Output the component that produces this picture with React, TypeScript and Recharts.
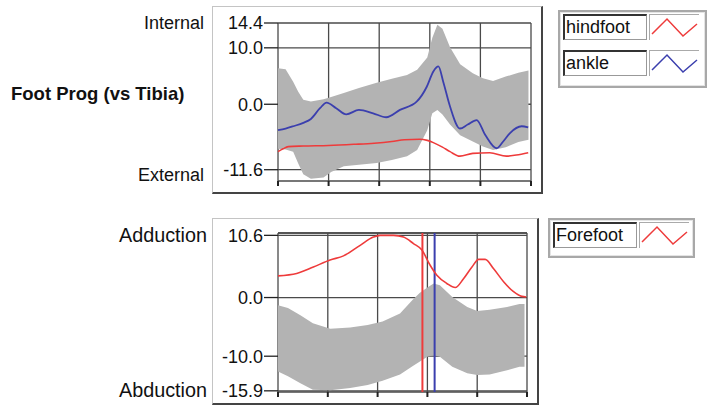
import React from 'react';
import { ComposedChart, Area, Line, XAxis, YAxis, CartesianGrid, ReferenceLine } from 'recharts';

// gait cycle, percent
const cycleTicks = [0, 20, 40, 60, 80, 100];

// top panel: foot progression vs tibia
const progTicks = [-11.6, 0, 10, 14.4];
const progBandX = [0, 3, 6, 8, 10, 13, 18, 21, 26, 32, 39, 45, 51, 55, 59, 61, 63, 65, 68, 72, 77, 81, 85, 90, 95, 99];
const progBandHi = [6.4, 6.2, 4.0, 2.2, 0.8, 0.5, 0.9, 1.3, 2.0, 2.9, 3.8, 4.5, 5.2, 6.1, 8.3, 11.8, 14.1, 13.4, 10.1, 7.1, 5.5, 4.6, 4.1, 4.9, 5.6, 6.0];
const progBandLo = [-7.9, -8.0, -8.4, -10.5, -12.4, -13.2, -13.0, -12.0, -11.0, -10.7, -10.4, -9.9, -9.2, -8.1, -4.6, -1.6, -1.0, -1.8, -3.6, -5.5, -6.6, -7.5, -8.1, -7.6, -6.7, -6.3];

const hindfootX = [0, 2, 4, 10, 20, 30, 38, 45, 50, 56, 59, 61.4, 65, 68, 71.9, 77, 83.7, 90.3, 94.2, 98.9];
const hindfootY = [-8.4, -7.9, -7.5, -7.4, -7.3, -7.1, -6.9, -6.6, -6.3, -6.2, -6.4, -6.8, -7.6, -8.4, -9.2, -8.7, -8.6, -9.2, -9.0, -8.6];

const ankleX = [0, 3, 6, 10, 13, 16.6, 19.2, 23, 27, 32, 37.6, 42.8, 48.2, 54.8, 58.8, 61.4, 63.4, 65.3, 68, 71.9, 75, 78.5, 82, 86.4, 89, 91.7, 96.3, 98.9];
const ankleY = [-4.6, -4.3, -3.9, -3.3, -2.6, -0.7, 0.3, -0.7, -1.8, -1.0, -1.6, -2.3, -1.0, 0.45, 3.1, 5.8, 6.7, 4.0, -0.4, -4.3, -3.6, -2.8, -5.5, -7.8, -6.6, -5.1, -3.9, -4.1];

// bottom panel: forefoot adduction / abduction
const addTicks = [-15.9, -10, 0, 10.6];
const addBandX = [0, 4, 9, 14, 21, 29, 36, 42, 49, 54, 57, 60, 62.5, 65, 70, 76, 80, 85, 92, 97, 99];
const addBandHi = [-1.3, -1.8, -3.0, -4.4, -5.3, -5.1, -4.7, -4.1, -2.7, -0.4, 0.8, 1.7, 2.4, 2.1, 0.1, -1.6, -2.3, -2.1, -1.6, -1.1, -1.1];
const addBandLo = [-12.6, -13.4, -14.6, -15.7, -15.8, -15.4, -14.9, -14.2, -13.1, -11.7, -10.9, -10.1, -9.8, -10.1, -11.8, -12.9, -13.2, -13.1, -12.4, -11.8, -11.8];

const forefootX = [0, 7.5, 14.2, 20.9, 26.3, 33, 38.3, 41, 46.4, 50.4, 54.4, 57.8, 61.1, 63.8, 67.8, 71.2, 74.5, 77.9, 80.6, 83.2, 86.6, 90.6, 94.6, 97.9, 99.7];
const forefootY = [3.7, 4.1, 5.2, 6.4, 7.1, 8.9, 10.3, 10.6, 10.6, 10.3, 9.2, 8.1, 5.5, 3.8, 2.4, 1.7, 3.2, 5.2, 6.5, 6.5, 4.9, 2.7, 1.0, 0.2, 0.1];

// toe-off markers
const toeOffRed = 58;
const toeOffBlue = 62.9;

const RED = '#ee3b3b';
const BLUE = '#3b3fae';
const BAND = '#b3b3b3';
const GRID = '#4a4a4a';
const FONT = '"Liberation Sans", Arial, sans-serif';

const toBand = (xs: number[], lo: number[], hi: number[]) =>
  xs.map((x, i) => ({ x, band: [lo[i], hi[i]] }));
const toLine = (xs: number[], ys: number[]) => xs.map((x, i) => ({ x, y: ys[i] }));

const fmt = (v: number) => v.toFixed(1);

const Frame: React.FC<{ left: number; top: number; width: number; height: number }> = ({ left, top, width, height }) => (
  <div
    style={{
      position: 'absolute',
      left,
      top,
      width,
      height,
      boxSizing: 'border-box',
      background: '#fff',
      borderTop: '1px solid #c4c4c4',
      borderLeft: '1px solid #c4c4c4',
      borderRight: '2px solid #444',
      borderBottom: '2px solid #444',
    }}
  />
);

const Label: React.FC<{ text: string; right?: number; left?: number; y: number; bold?: boolean; size?: number }> = ({
  text,
  right,
  left,
  y,
  bold,
  size = 18,
}) => (
  <div
    style={{
      position: 'absolute',
      top: y - 12,
      height: 24,
      lineHeight: '24px',
      left,
      right: right !== undefined ? 709 - right : undefined,
      fontSize: size,
      fontWeight: bold ? 700 : 400,
      color: '#111',
      whiteSpace: 'nowrap',
    }}
  >
    {text}
  </div>
);

const LegendRow: React.FC<{ name: string; color: string; left: number; top: number }> = ({ name, color, left, top }) => (
  <>
    <div
      style={{
        position: 'absolute',
        left,
        top,
        width: 84,
        height: 26,
        boxSizing: 'border-box',
        background: '#fff',
        borderTop: '2px solid #333',
        borderLeft: '2px solid #333',
        borderRight: '1px solid #999',
        borderBottom: '1px solid #999',
        fontSize: 18,
        lineHeight: '22px',
        paddingLeft: 1,
        color: '#111',
      }}
    >
      {name}
    </div>
    <div
      style={{
        position: 'absolute',
        left: left + 86,
        top,
        width: 50,
        height: 26,
        boxSizing: 'border-box',
        borderTop: '1px solid #aaa',
        borderLeft: '1px solid #aaa',
      }}
    >
      <svg width={48} height={24} style={{ display: 'block' }}>
        <polyline points="2,19 17,4 33,21 47,9" fill="none" stroke={color} strokeWidth={1.5} />
      </svg>
    </div>
  </>
);

const LegendBox: React.FC<{ left: number; top: number; width: number; height: number }> = ({ left, top, width, height }) => (
  <div
    style={{
      position: 'absolute',
      left,
      top,
      width,
      height,
      boxSizing: 'border-box',
      background: '#fff',
      border: '2px solid #a8a8a8',
      boxShadow: 'inset 0 0 0 1px #e4e4e4',
    }}
  />
);

const axisTick = { fill: '#111', fontSize: 18, fontFamily: FONT };

const App: React.FC = () => {
  const progBand = toBand(progBandX, progBandLo, progBandHi);
  const hindfoot = toLine(hindfootX, hindfootY);
  const ankle = toLine(ankleX, ankleY);
  const addBand = toBand(addBandX, addBandLo, addBandHi);
  const forefoot = toLine(forefootX, forefootY);

  return (
    <div style={{ position: 'absolute', left: 0, top: 0, width: 709, height: 408, background: '#fff', fontFamily: FONT }}>
      {/* top panel */}
      <Label text="Internal" right={204} y={23} />
      <Label text="External" right={204} y={175} />
      <Label text="Foot Prog (vs Tibia)" left={11} y={94} bold size={18.5} />
      <Frame left={212} top={6} width={331} height={188} />
      <div style={{ position: 'absolute', left: 212, top: 6 }}>
        <ComposedChart width={333} height={188} margin={{ top: 17, right: 14, bottom: 3, left: 0 }}>
          <CartesianGrid stroke={GRID} strokeWidth={1.3} />
          <XAxis
            type="number"
            dataKey="x"
            domain={[0, 100]}
            ticks={cycleTicks}
            axisLine={false}
            tickLine={{ stroke: '#222', strokeWidth: 2 }}
            tickSize={5}
            tickFormatter={() => ''}
            height={10}
          />
          <YAxis
            type="number"
            domain={[-13.6, 14.4]}
            ticks={progTicks}
            interval={0}
            tickFormatter={fmt}
            axisLine={false}
            tickLine={{ stroke: '#222', strokeWidth: 1.3 }}
            tickSize={14}
            tickMargin={1}
            tick={axisTick}
            width={66}
          />
          <Area data={progBand} dataKey="band" type="linear" stroke="none" fill={BAND} fillOpacity={1} isAnimationActive={false} />
          <Line data={hindfoot} dataKey="y" type="monotone" stroke={RED} strokeWidth={1.6} dot={false} isAnimationActive={false} />
          <Line data={ankle} dataKey="y" type="monotone" stroke={BLUE} strokeWidth={1.8} dot={false} isAnimationActive={false} />
        </ComposedChart>
      </div>
      <LegendBox left={558} top={10} width={149} height={78} />
      <LegendRow name="hindfoot" color={RED} left={563} top={14} />
      <LegendRow name="ankle" color={BLUE} left={563} top={50} />

      {/* bottom panel */}
      <Label text="Adduction" right={207} y={235} size={19.8} />
      <Label text="Abduction" right={207} y={390} size={19.8} />
      <Frame left={212} top={218} width={327} height={187} />
      <div style={{ position: 'absolute', left: 212, top: 218 }}>
        <ComposedChart width={327} height={187} margin={{ top: 15, right: 12, bottom: 3, left: 0 }}>
          <CartesianGrid stroke={GRID} strokeWidth={1.3} />
          <XAxis
            type="number"
            dataKey="x"
            domain={[0, 100]}
            ticks={cycleTicks}
            axisLine={false}
            tickLine={{ stroke: '#222', strokeWidth: 2 }}
            tickSize={5}
            tickFormatter={() => ''}
            height={10}
          />
          <YAxis
            type="number"
            domain={[-16.1, 11.0]}
            ticks={addTicks}
            interval={0}
            tickFormatter={fmt}
            axisLine={false}
            tickLine={{ stroke: '#222', strokeWidth: 1.3 }}
            tickSize={14}
            tickMargin={1}
            tick={axisTick}
            width={66}
          />
          <ReferenceLine y={11.0} stroke={GRID} strokeWidth={1.3} />
          <Area data={addBand} dataKey="band" type="linear" stroke="none" fill={BAND} fillOpacity={1} isAnimationActive={false} />
          <ReferenceLine x={toeOffRed} stroke={RED} strokeWidth={2} />
          <ReferenceLine x={toeOffBlue} stroke={BLUE} strokeWidth={2} />
          <Line data={forefoot} dataKey="y" type="monotone" stroke={RED} strokeWidth={1.6} dot={false} isAnimationActive={false} />
        </ComposedChart>
      </div>
      <LegendBox left={548} top={218} width={147} height={40} />
      <LegendRow name="Forefoot" color={RED} left={553} top={222} />
    </div>
  );
};

export default App;
